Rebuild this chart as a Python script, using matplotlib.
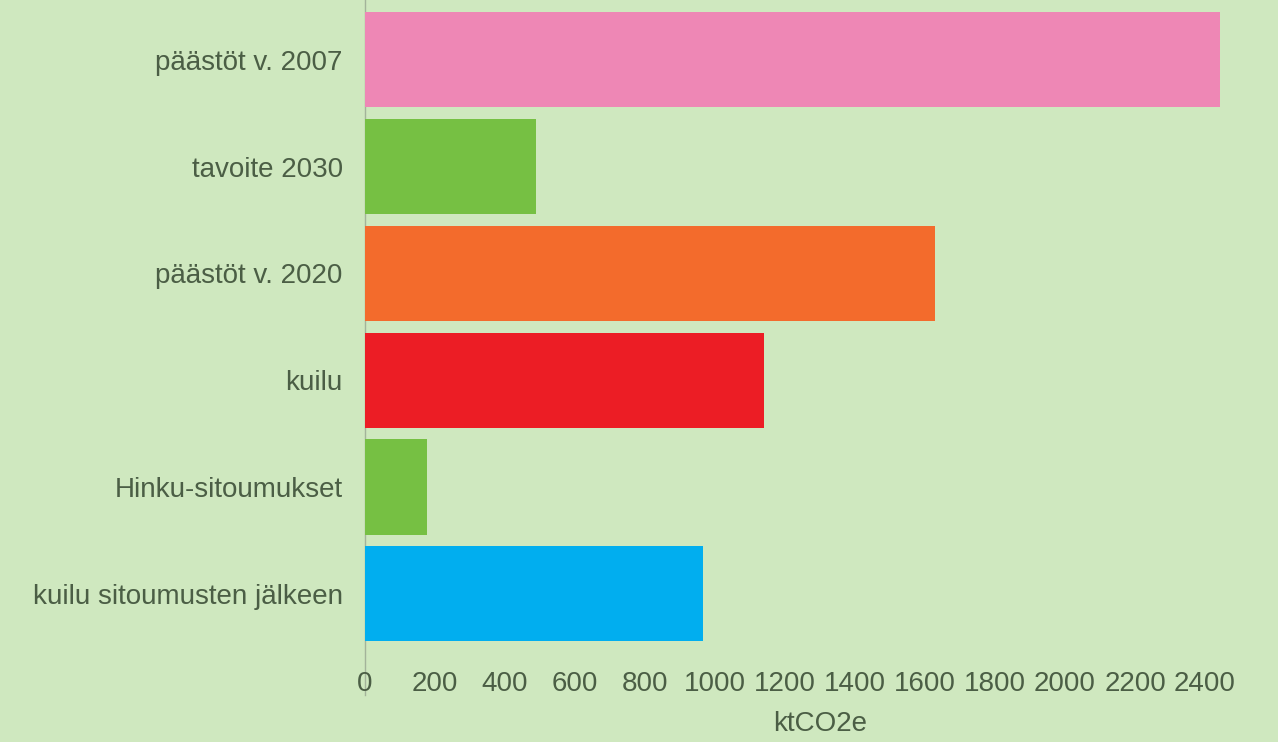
import matplotlib
matplotlib.use("Agg")
import matplotlib.pyplot as plt

categories = ["päästöt v. 2007", "tavoite 2030", "päästöt v. 2020", "kuilu",
              "Hinku-sitoumukset", "kuilu sitoumusten jälkeen"]
values = [2443, 489, 1629, 1140, 177, 966]
colors = ["#ee87b5", "#76c043", "#f36b2c", "#ec1d25", "#76c043", "#01aeef"]
xticks = list(range(0, 2401, 200))
xlabel = "ktCO2e"

bg = "#cfe8bf"
txt = "#4b5e45"
fs = 20

fig = plt.figure(figsize=(12.78, 7.42), dpi=100, facecolor=bg)
ax = fig.add_axes([365/1278, 1 - 660/742, 910/1278, 660/742])
ax.set_facecolor(bg)

ypos = list(range(len(categories)))
ax.barh(ypos, values, height=0.89, color=colors, zorder=2)
ax.set_ylim(5.62, -0.56)
ax.set_xlim(0, 2600)
ax.set_yticks(ypos)
ax.set_yticklabels(categories, fontsize=fs, color=txt, family="Liberation Sans")
ax.set_xticks(xticks)
ax.set_xticklabels([str(t) for t in xticks], fontsize=fs, color=txt, family="Liberation Sans")
ax.tick_params(axis="both", length=0)
ax.tick_params(axis="y", pad=16)
ax.tick_params(axis="x", pad=8)
ax.set_xlabel(xlabel, fontsize=fs, color=txt, family="Liberation Sans", labelpad=10)

for s in ["top", "right", "bottom", "left"]:
    ax.spines[s].set_visible(False)
ax.axvline(0, ymin=-0.053, ymax=1, color="#a3b39a", linewidth=1, clip_on=False, zorder=1)

fig.savefig("out.png", dpi=100, facecolor=bg)
